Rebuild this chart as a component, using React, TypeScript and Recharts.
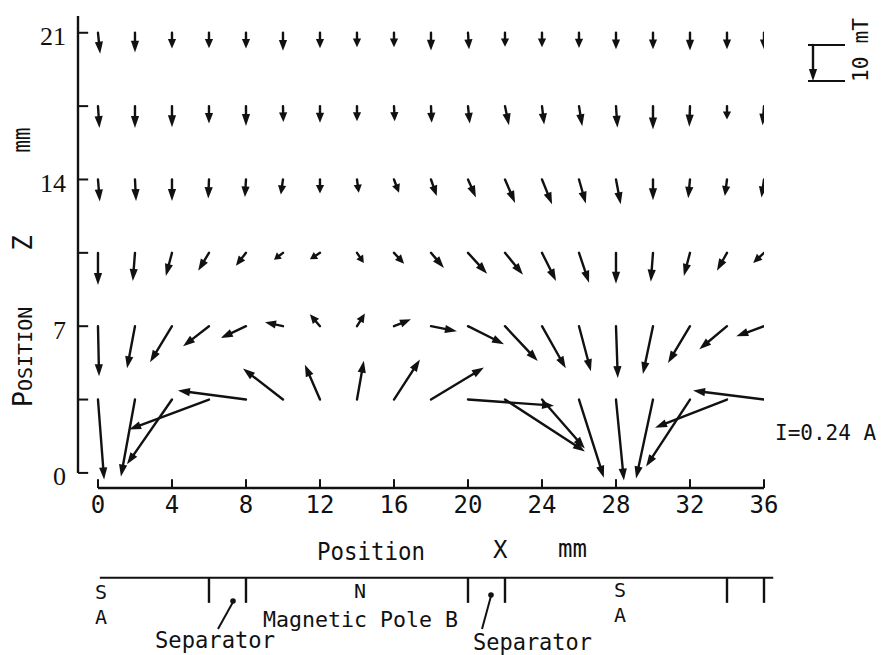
import { ScatterChart, Scatter, XAxis, YAxis, ReferenceLine } from "recharts"

// grid of measuring points (mm)
const X_POS = [0, 2, 4, 6, 8, 10, 12, 14, 16, 18, 20, 22, 24, 26, 28, 30, 32, 34, 36]
const Z_ROWS = [21, 17.5, 14, 10.5, 7, 3.5]

// flux density components in mT, one value per X_POS column
const BX_21 = [0.6, 0, 0, 0, 0, 0, 0, 0, 0, 0, 0.3, 0, 0, 0, 0, 0, 0, 0, 0]
const BZ_21 = [-5.8, -5.5, -4.4, -4.3, -4.4, -5, -4.3, -4, -4, -4.9, -4.6, -3.9, -4, -4.2, -4.6, -4.6, -4.9, -4.6, -4.6]

const BX_17_5 = [0.4, 0, 0, 0, 0, 0.1, 0, 0, 0.2, 0.2, 0.5, 1.1, 0.6, 0.9, 0.4, 0, -0.2, 0, -0.4]
const BZ_17_5 = [-6.1, -6.1, -5.9, -4.8, -5.5, -4.4, -4.6, -4.2, -4.2, -4.6, -4.8, -5.3, -5.1, -5.6, -6, -6.5, -5.7, -3.7, -5.3]

const BX_14 = [0.5, 0.3, 0, -0.2, -0.3, -0.6, 0, 0.5, 1.4, 1.6, 2.2, 2.8, 2.8, 1.9, 1.3, 0, -0.5, -0.6, -0.7]
const BZ_14 = [-6.1, -6, -6, -5.3, -4.9, -4.2, -3.9, -3.7, -3.7, -4.6, -5, -6.5, -6.9, -6.7, -6.9, -5.8, -5.2, -4.6, -5]

const BX_10_5 = [0, -0.6, -1.7, -3, -2.8, -2.5, -2.8, 1.9, 2.8, 3.6, 5.3, 5, 3.9, 2.8, 0, -0.6, -1.7, -2.8, -3]
const BZ_10_5 = [-8.9, -7.8, -6.4, -5, -3.6, -1.9, -1.8, -2.8, -3, -4.2, -5.8, -6.1, -7.8, -8.3, -8.6, -8, -6.4, -5, -2.8]

const BX_7 = [0.3, -2.2, -6.1, -7.2, -7, -5, -2.8, 2.2, 4.7, 7.2, 10, 9.1, 6.6, 3.3, 0.5, -2.8, -6.1, -7.7, -7.7]
const BZ_7 = [-13.9, -11.7, -10, -5.6, -3.3, 1.1, 3.3, 3.5, 1.9, -1.4, -5, -9.7, -11.7, -12.5, -14.4, -13.3, -10.2, -6.4, -2.8]

const BX_3_5 = [1.7, -3.9, -12.5, -22.2, -18.9, -11.1, -4.2, 1.9, 7.2, 14.7, 23.9, 22.2, 11.9, 6.9, 2.2, -4.7, -12.2, -20, -19.7]
const BZ_3_5 = [-22.2, -21.4, -18, -8.3, 2.5, 8.6, 9.7, 10.8, 11.1, 8.9, -1.7, -14.4, -13.6, -21.7, -22.5, -21.9, -18.6, -7.8, 2.5]

const BX_ROWS = [BX_21, BX_17_5, BX_14, BX_10_5, BX_7, BX_3_5]
const BZ_ROWS = [BZ_21, BZ_17_5, BZ_14, BZ_10_5, BZ_7, BZ_3_5]

const X_TICKS = [0, 4, 8, 12, 16, 20, 24, 28, 32, 36]
const Z_TICKS = [0, 7, 14, 21]
const Z_MINOR = [0, 3.5, 7, 10.5, 14, 17.5, 21]
const MAGNET_MARKS = [6, 8, 20, 22, 34, 36]
const SCALE_REF_MT = 10
const CURRENT_LABEL = "I=0.24 A"

// axis ranges, a little wider than the grid so the frame sits like the original
const X_MIN = -1.08
const X_MAX = 36
const Z_MIN = -0.72
const Z_MAX = 21.8

const W = 881
const H = 655
const PX_PER_MT = 3.6
const INK = "#111"
const MONO = "'DejaVu Sans Mono', monospace"
const SERIF = "'Liberation Serif', serif"

const data = Z_ROWS.flatMap((z, r) =>
  X_POS.map((x, c) => ({ x, z, bx: BX_ROWS[r][c], bz: BZ_ROWS[r][c] }))
)

function ArrowGlyph({ x0, y0, dx, dy }: { x0: number; y0: number; dx: number; dy: number }) {
  const len = Math.hypot(dx, dy)
  if (len < 0.5) return null
  const ux = dx / len
  const uy = dy / len
  const head = Math.min(12, len * 0.6)
  const half = 4.1
  const tx = x0 + dx
  const ty = y0 + dy
  const bx = tx - ux * head
  const by = ty - uy * head
  const nx = -uy
  const ny = ux
  return (
    <g>
      <line x1={x0} y1={y0} x2={bx + ux} y2={by + uy} stroke={INK} strokeWidth={2.4} strokeLinecap="round" />
      <polygon
        points={`${tx},${ty} ${bx + nx * half},${by + ny * half} ${bx - nx * half},${by - ny * half}`}
        fill={INK}
      />
    </g>
  )
}

const renderArrow = (p: any) => {
  if (p.cx == null || p.cy == null) return <g />
  return <ArrowGlyph x0={p.cx} y0={p.cy} dx={p.payload.bx * PX_PER_MT} dy={-p.payload.bz * PX_PER_MT} />
}

const renderZTick = (p: any) => (
  <text x={p.x} y={p.y + 4} textAnchor="end" dominantBaseline="central" fontSize={26} fontFamily={SERIF} fill={INK}>
    {p.payload.value}
  </text>
)

// labels and the magnet sketch under the axis
function Annotations() {
  const t = { fontFamily: MONO, fill: INK }
  return (
    <g>
      {/* z axis title */}
      <text x={32} y={357} transform="rotate(-90 32 357)" textAnchor="middle" {...t}>
        <tspan fontSize={27}>P</tspan>
        <tspan fontSize={20}>OSITION</tspan>
      </text>
      <text x={32} y={243} transform="rotate(-90 32 243)" textAnchor="middle" fontSize={26} {...t}>Z</text>
      <text x={30} y={140} transform="rotate(-90 30 140)" textAnchor="middle" fontSize={24} textLength={25} lengthAdjust="spacingAndGlyphs" {...t}>mm</text>

      {/* x axis title */}
      <text x={317} y={560} fontSize={25} textLength={108} lengthAdjust="spacingAndGlyphs" {...t}>Position</text>
      <text x={493} y={558} fontSize={24} {...t}>X</text>
      <text x={558} y={557} fontSize={24} textLength={29} lengthAdjust="spacingAndGlyphs" {...t}>mm</text>

      {/* scale arrow */}
      <line x1={808} y1={45} x2={845} y2={45} stroke={INK} strokeWidth={2} />
      <line x1={808} y1={81} x2={845} y2={81} stroke={INK} strokeWidth={2} />
      <ArrowGlyph x0={813} y0={45} dx={0} dy={SCALE_REF_MT * PX_PER_MT} />
      <text x={868} y={82} transform="rotate(-90 868 82)" fontSize={22} textLength={64} lengthAdjust="spacingAndGlyphs" {...t}>10 mT</text>

      <text x={775} y={440} fontSize={21} {...t}>{CURRENT_LABEL}</text>

      {/* magnet */}
      <text x={101} y={599} textAnchor="middle" fontSize={20} {...t}>S</text>
      <text x={101} y={624} textAnchor="middle" fontSize={20} {...t}>A</text>
      <text x={360} y={598} textAnchor="middle" fontSize={20} {...t}>N</text>
      <text x={263} y={627} fontSize={22} textLength={195} lengthAdjust="spacingAndGlyphs" {...t}>Magnetic Pole B</text>
      <text x={620} y={597} textAnchor="middle" fontSize={20} {...t}>S</text>
      <text x={620} y={622} textAnchor="middle" fontSize={20} {...t}>A</text>

      <text x={155} y={648} fontSize={23} textLength={120} lengthAdjust="spacingAndGlyphs" {...t}>Separator</text>
      <line x1={218} y1={629} x2={233} y2={602} stroke={INK} strokeWidth={2} />
      <circle cx={233} cy={601} r={2.8} fill={INK} />
      <text x={473} y={650} fontSize={23} textLength={119} lengthAdjust="spacingAndGlyphs" {...t}>Separator</text>
      <line x1={482} y1={629} x2={491} y2={596} stroke={INK} strokeWidth={2} />
      <circle cx={491} cy={595} r={2.8} fill={INK} />
    </g>
  )
}

export default function App() {
  return (
    <div style={{ position: "absolute", left: 0, top: 0, width: W, height: H, background: "#fff" }}>
      <ScatterChart width={W} height={H} margin={{ top: 16, right: 117, bottom: 0, left: 0 }}>
        <XAxis
          type="number"
          dataKey="x"
          domain={[X_MIN, X_MAX]}
          ticks={X_TICKS}
          interval={0}
          allowDataOverflow
          axisLine={false}
          tickLine={false}
          height={167}
          tickMargin={2}
          tick={{ fontSize: 24, fontFamily: MONO, fill: INK }}
        />
        <YAxis
          type="number"
          dataKey="z"
          domain={[Z_MIN, Z_MAX]}
          ticks={Z_TICKS}
          interval={0}
          allowDataOverflow
          axisLine={false}
          tickLine={false}
          width={78}
          tickMargin={6}
          tick={renderZTick}
        />

        {/* z axis frame with inward ticks */}
        <ReferenceLine segment={[{ x: X_MIN, y: 0 }, { x: X_MIN, y: Z_MAX }]} stroke={INK} strokeWidth={2.4} ifOverflow="visible" />
        {Z_MINOR.map((v) => (
          <ReferenceLine key={`zt-${v}`} segment={[{ x: X_MIN, y: v }, { x: X_MIN + 0.55, y: v }]} stroke={INK} strokeWidth={2} ifOverflow="visible" />
        ))}

        {/* x axis with upward ticks */}
        <ReferenceLine segment={[{ x: 0, y: Z_MIN }, { x: X_MAX, y: Z_MIN }]} stroke={INK} strokeWidth={2.4} ifOverflow="visible" />
        {X_TICKS.map((v) => (
          <ReferenceLine key={`xt-${v}`} segment={[{ x: v, y: Z_MIN }, { x: v, y: Z_MIN + 0.42 }]} stroke={INK} strokeWidth={2} ifOverflow="visible" />
        ))}

        {/* magnet outline */}
        <ReferenceLine segment={[{ x: 0.1, y: -5 }, { x: 36.5, y: -5 }]} stroke={INK} strokeWidth={2} ifOverflow="visible" />
        {MAGNET_MARKS.map((v) => (
          <ReferenceLine key={`mm-${v}`} segment={[{ x: v, y: -5 }, { x: v, y: -6.2 }]} stroke={INK} strokeWidth={2.4} ifOverflow="visible" />
        ))}

        <Scatter data={data} shape={renderArrow} isAnimationActive={false} />
        <Annotations />
      </ScatterChart>
    </div>
  )
}
